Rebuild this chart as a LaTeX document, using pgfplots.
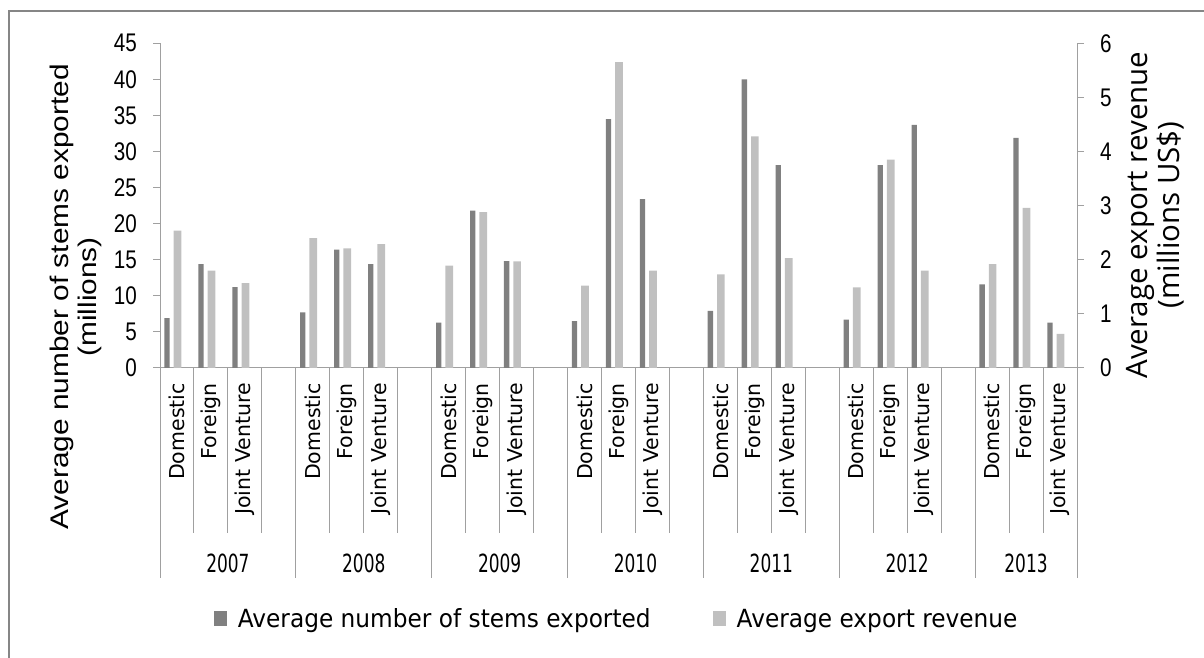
\documentclass[border=0pt]{standalone}
\usepackage{pgfplots}
\pgfplotsset{compat=1.18}
\usepackage{fontspec}
\setmainfont{DejaVu Sans}
\newfontfamily\tickfont[FakeStretch=0.81]{Liberation Sans}
\newfontfamily\ylabfont[FakeStretch=1.17]{Liberation Sans}
\newfontfamily\catfont{DejaVu Sans}
\newfontfamily\yearfont[FakeStretch=0.68]{DejaVu Sans}
\newfontfamily\legfont[FakeStretch=0.93]{DejaVu Sans}
\newfontfamily\rlabfont{Open Sans}
\definecolor{darkbar}{RGB}{128,128,128}
\definecolor{lightbar}{RGB}{192,192,192}
\definecolor{axisgray}{RGB}{160,160,160}
\definecolor{framegray}{RGB}{134,134,134}

% slot, stems (millions), revenue (millions US$)
\pgfplotstableread{
x stems rev
0 6.9 2.54
1 14.4 1.80
2 11.2 1.57
4 7.7 2.40
5 16.4 2.21
6 14.4 2.29
8 6.3 1.89
9 21.8 2.88
10 14.8 1.97
12 6.5 1.52
13 34.5 5.65
14 23.4 1.80
16 7.9 1.73
17 40.0 4.28
18 28.1 2.03
20 6.7 1.49
21 28.1 3.85
22 33.7 1.80
24 11.6 1.92
25 31.9 2.96
26 6.3 0.63
}\datatable

\newcommand{\yearnode}[2]{\node[font=\yearfont\fontsize{25pt}{28pt}\selectfont, anchor=center, inner sep=0pt] at ([yshift=-195pt]axis cs:#1,0) {#2};}

\begin{document}
\begin{tikzpicture}
\useasboundingbox (0pt,0pt) rectangle (1204pt,658pt);
\draw[framegray, line width=2pt] (9pt,0pt) -- (9pt,647pt) -- (1204pt,647pt);

\begin{axis}[
  at={(160pt,290pt)}, anchor=south west,
  scale only axis, width=917pt, height=324.7pt,
  xmin=-0.5, xmax=26.5, ymin=0, ymax=45,
  clip=false,
  axis x line*=bottom, axis y line*=left,
  axis line style={axisgray, line width=1pt, -},
  ytick={0,5,...,45},
  tick align=outside, major tick length=7pt,
  ytick style={axisgray, line width=1pt},
  xtick style={draw=none},
  /pgf/number format/assume math mode=true,
  yticklabel style={font=\tickfont\fontsize{25.5pt}{28pt}\selectfont, inner sep=0pt, xshift=-16pt},
  xtick={0,1,2,4,5,6,8,9,10,12,13,14,16,17,18,20,21,22,24,25,26},
  xticklabels={Domestic,Foreign,Joint Venture,Domestic,Foreign,Joint Venture,Domestic,Foreign,Joint Venture,Domestic,Foreign,Joint Venture,Domestic,Foreign,Joint Venture,Domestic,Foreign,Joint Venture,Domestic,Foreign,Joint Venture},
  xticklabel style={font=\catfont\fontsize{20.5pt}{24pt}\selectfont, rotate=90, anchor=east, inner sep=0pt, xshift=-8pt},
  ylabel={Average number of stems exported\\(millions)},
  ylabel style={font=\ylabfont\fontsize{25.5pt}{28pt}\selectfont, align=center, at={(axis description cs:-0.0916,0.219)}, anchor=center},
  legend style={draw=none, fill=none, legend columns=2, font=\legfont\fontsize{25pt}{28pt}\selectfont,
    at={(axis description cs:0.498,-0.773)}, anchor=center, inner sep=0pt,
    /tikz/every odd column/.append style={column sep=9pt},
    /tikz/every even column/.append style={column sep=60pt}},
  legend image code/.code={\fill[#1] (0pt,-7.5pt) rectangle (13pt,7.5pt);},
]
\addplot[ybar, bar width=5.3pt, bar shift=-10pt, fill=darkbar, draw=none] table[x=x,y=stems]{\datatable};
\addlegendentry{Average number of stems exported}
\addlegendimage{fill=lightbar, draw=none}
\addlegendentry{Average export revenue}
% category separators
\pgfplotsinvokeforeach{0.5,1.5,2.5,4.5,5.5,6.5,8.5,9.5,10.5,12.5,13.5,14.5,16.5,17.5,18.5,20.5,21.5,22.5,24.5,25.5}{
  \draw[axisgray, line width=1pt] (axis cs:#1,0) -- ++(0pt,-165pt);
}
% group separators
\pgfplotsinvokeforeach{-0.5,3.5,7.5,11.5,15.5,19.5,23.5,26.5}{
  \draw[axisgray, line width=1pt] (axis cs:#1,0) -- ++(0pt,-210pt);
}
% year labels
\yearnode{1.5}{2007}
\yearnode{5.5}{2008}
\yearnode{9.5}{2009}
\yearnode{13.5}{2010}
\yearnode{17.5}{2011}
\yearnode{21.5}{2012}
\yearnode{25}{2013}
\end{axis}

\begin{axis}[
  at={(160pt,290pt)}, anchor=south west,
  scale only axis, width=917pt, height=324.7pt,
  xmin=-0.5, xmax=26.5, ymin=0, ymax=6,
  axis x line=none, axis y line*=right,
  axis line style={axisgray, line width=1pt, -},
  ytick={0,1,...,6}, xtick=\empty,
  tick align=outside, major tick length=7pt,
  ytick style={axisgray, line width=1pt},
  /pgf/number format/assume math mode=true,
  yticklabel style={font=\tickfont\fontsize{25.5pt}{28pt}\selectfont, inner sep=0pt, xshift=16pt},
  ylabel={Average export revenue\\(millions US\$)},
  ylabel style={font=\rlabfont\fontsize{29.5pt}{32pt}\selectfont, align=center, at={(axis description cs:1.085,0.471)}, anchor=center, rotate=0},
]
\addplot[ybar, bar width=7.7pt, bar shift=0.5pt, fill=lightbar, draw=none] table[x=x,y=rev]{\datatable};
\end{axis}
\end{tikzpicture}
\end{document}
